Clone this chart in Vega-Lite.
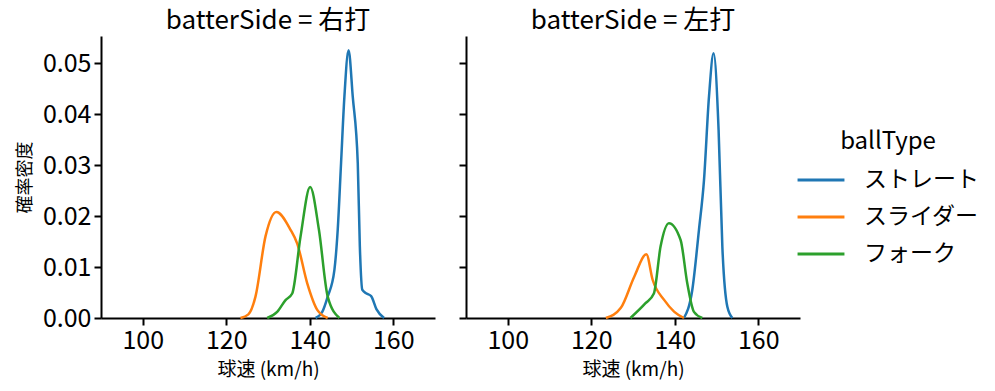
{
  "$schema": "https://vega.github.io/schema/vega-lite/v6.json",
  "background": "white",
  "padding": {"left": 16, "top": 8, "right": 5, "bottom": 3},
  "config": {
    "font": "Noto Sans CJK JP",
    "view": {"stroke": null},
    "axis": {"grid": false, "domainColor": "black", "domainWidth": 2, "tickColor": "black", "tickWidth": 2, "tickSize": 7, "labelFontSize": 25, "labelColor": "black", "titleFontSize": 19, "titleFontWeight": "normal", "titleColor": "black", "labelPadding": 3},
    "title": {"fontSize": 26, "fontWeight": "normal", "color": "black", "anchor": "middle", "offset": 2},
    "legend": {"titleFontSize": 24, "titleFontWeight": "normal", "labelFontSize": 23, "symbolType": "stroke", "symbolStrokeWidth": 3, "symbolSize": 2200, "rowPadding": -16, "titleColor": "black", "labelColor": "black", "labelOffset": 18, "titleAnchor": "middle", "titlePadding": 1}
  },
  "datasets": {
    "kde": [
      {"side": "右打", "ballType": "ストレート", "speed": 141.4, "density": 0},
      {"side": "右打", "ballType": "ストレート", "speed": 143.0, "density": 0.0012},
      {"side": "右打", "ballType": "ストレート", "speed": 144.3, "density": 0.0042},
      {"side": "右打", "ballType": "ストレート", "speed": 145.9, "density": 0.0094},
      {"side": "右打", "ballType": "ストレート", "speed": 146.7, "density": 0.0173},
      {"side": "右打", "ballType": "ストレート", "speed": 147.5, "density": 0.0304},
      {"side": "右打", "ballType": "ストレート", "speed": 148.3, "density": 0.0434},
      {"side": "右打", "ballType": "ストレート", "speed": 149.3, "density": 0.0525},
      {"side": "右打", "ballType": "ストレート", "speed": 150.3, "density": 0.0434},
      {"side": "右打", "ballType": "ストレート", "speed": 151.5, "density": 0.0304},
      {"side": "右打", "ballType": "ストレート", "speed": 152.0, "density": 0.014},
      {"side": "右打", "ballType": "ストレート", "speed": 152.6, "density": 0.0055},
      {"side": "右打", "ballType": "ストレート", "speed": 153.6, "density": 0.0048},
      {"side": "右打", "ballType": "ストレート", "speed": 154.7, "density": 0.0043},
      {"side": "右打", "ballType": "ストレート", "speed": 156.0, "density": 0.0017},
      {"side": "右打", "ballType": "ストレート", "speed": 157.8, "density": 0},
      {"side": "右打", "ballType": "スライダー", "speed": 123.4, "density": 0},
      {"side": "右打", "ballType": "スライダー", "speed": 125.3, "density": 0.0007},
      {"side": "右打", "ballType": "スライダー", "speed": 127.0, "density": 0.0042},
      {"side": "右打", "ballType": "スライダー", "speed": 129.4, "density": 0.016},
      {"side": "右打", "ballType": "スライダー", "speed": 132.0, "density": 0.0208},
      {"side": "右打", "ballType": "スライダー", "speed": 135.4, "density": 0.0173},
      {"side": "右打", "ballType": "スライダー", "speed": 137.0, "density": 0.0146},
      {"side": "右打", "ballType": "スライダー", "speed": 139.4, "density": 0.0068},
      {"side": "右打", "ballType": "スライダー", "speed": 141.8, "density": 0.0016},
      {"side": "右打", "ballType": "スライダー", "speed": 144.3, "density": 0},
      {"side": "右打", "ballType": "フォーク", "speed": 129.8, "density": 0},
      {"side": "右打", "ballType": "フォーク", "speed": 132.2, "density": 0.0012},
      {"side": "右打", "ballType": "フォーク", "speed": 134.2, "density": 0.0035},
      {"side": "右打", "ballType": "フォーク", "speed": 135.8, "density": 0.0048},
      {"side": "右打", "ballType": "フォーク", "speed": 137.8, "density": 0.016},
      {"side": "右打", "ballType": "フォーク", "speed": 140.1, "density": 0.0257},
      {"side": "右打", "ballType": "フォーク", "speed": 142.2, "density": 0.0173},
      {"side": "右打", "ballType": "フォーク", "speed": 144.3, "density": 0.0042},
      {"side": "右打", "ballType": "フォーク", "speed": 147.1, "density": 0},
      {"side": "左打", "ballType": "ストレート", "speed": 142.2, "density": 0},
      {"side": "左打", "ballType": "ストレート", "speed": 144.2, "density": 0.0055},
      {"side": "左打", "ballType": "ストレート", "speed": 145.8, "density": 0.0173},
      {"side": "左打", "ballType": "ストレート", "speed": 147.0, "density": 0.027},
      {"side": "左打", "ballType": "ストレート", "speed": 148.2, "density": 0.0434},
      {"side": "左打", "ballType": "ストレート", "speed": 149.3, "density": 0.0519},
      {"side": "左打", "ballType": "ストレート", "speed": 150.5, "density": 0.0369},
      {"side": "左打", "ballType": "ストレート", "speed": 151.4, "density": 0.014},
      {"side": "左打", "ballType": "ストレート", "speed": 152.6, "density": 0.0022},
      {"side": "左打", "ballType": "ストレート", "speed": 153.8, "density": 0},
      {"side": "左打", "ballType": "スライダー", "speed": 123.5, "density": 0},
      {"side": "左打", "ballType": "スライダー", "speed": 127.1, "density": 0.002},
      {"side": "左打", "ballType": "スライダー", "speed": 130.3, "density": 0.0081},
      {"side": "左打", "ballType": "スライダー", "speed": 133.2, "density": 0.0125},
      {"side": "左打", "ballType": "スライダー", "speed": 134.7, "density": 0.0075},
      {"side": "左打", "ballType": "スライダー", "speed": 137.5, "density": 0.0035},
      {"side": "左打", "ballType": "スライダー", "speed": 139.9, "density": 0.0012},
      {"side": "左打", "ballType": "スライダー", "speed": 142.2, "density": 0},
      {"side": "左打", "ballType": "フォーク", "speed": 129.4, "density": 0},
      {"side": "左打", "ballType": "フォーク", "speed": 133.0, "density": 0.0029},
      {"side": "左打", "ballType": "フォーク", "speed": 135.0, "density": 0.0048},
      {"side": "左打", "ballType": "フォーク", "speed": 136.6, "density": 0.014},
      {"side": "左打", "ballType": "フォーク", "speed": 138.6, "density": 0.0186},
      {"side": "左打", "ballType": "フォーク", "speed": 141.4, "density": 0.0153},
      {"side": "左打", "ballType": "フォーク", "speed": 143.0, "density": 0.0068},
      {"side": "左打", "ballType": "フォーク", "speed": 144.6, "density": 0.0012},
      {"side": "左打", "ballType": "フォーク", "speed": 146.6, "density": 0}
    ]
  },
  "data": {"name": "kde"},
  "spacing": 23,
  "hconcat": [
    {
      "title": "batterSide = 右打",
      "width": 334,
      "height": 282,
      "transform": [{"filter": "datum.side === '右打'"}],
      "mark": {"type": "line", "strokeWidth": 2.5, "interpolate": "monotone"},
      "encoding": {
        "x": {"field": "speed", "type": "quantitative", "scale": {"domain": [90, 170], "nice": false, "zero": false}, "axis": {"values": [100, 120, 140, 160], "title": "球速 (km/h)", "titlePadding": 7}},
        "y": {"field": "density", "type": "quantitative", "scale": {"domain": [0, 0.0553], "nice": false}, "axis": {"values": [0, 0.01, 0.02, 0.03, 0.04, 0.05], "format": ".2f", "title": "確率密度", "titlePadding": 8, "titleFontSize": 18}},
        "color": {"field": "ballType", "type": "nominal", "scale": {"domain": ["ストレート", "スライダー", "フォーク"], "range": ["#1f77b4", "#ff7f0e", "#2ca02c"]}, "legend": {"title": "ballType", "orient": "none", "legendX": 695, "legendY": 94}}
      }
    },
    {
      "title": "batterSide = 左打",
      "width": 334,
      "height": 282,
      "transform": [{"filter": "datum.side === '左打'"}],
      "mark": {"type": "line", "strokeWidth": 2.5, "interpolate": "monotone"},
      "encoding": {
        "x": {"field": "speed", "type": "quantitative", "scale": {"domain": [90, 170], "nice": false, "zero": false}, "axis": {"values": [100, 120, 140, 160], "title": "球速 (km/h)", "titlePadding": 7}},
        "y": {"field": "density", "type": "quantitative", "scale": {"domain": [0, 0.0553], "nice": false}, "axis": {"values": [0, 0.01, 0.02, 0.03, 0.04, 0.05], "labels": false, "title": null}},
        "color": {"field": "ballType", "type": "nominal", "scale": {"domain": ["ストレート", "スライダー", "フォーク"], "range": ["#1f77b4", "#ff7f0e", "#2ca02c"]}, "legend": {"title": "ballType", "orient": "none", "legendX": 695, "legendY": 94}}
      }
    }
  ]
}
